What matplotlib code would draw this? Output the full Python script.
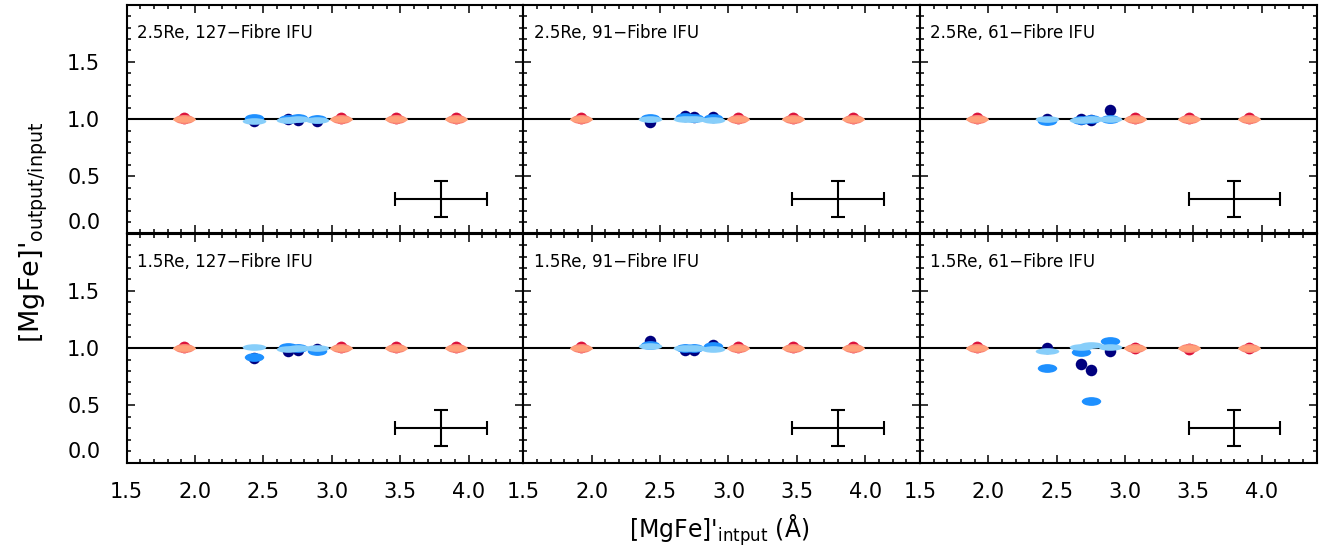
import matplotlib
matplotlib.use("Agg")
import matplotlib.pyplot as plt
from matplotlib.path import Path
from matplotlib.transforms import Affine2D
from matplotlib.ticker import MultipleLocator, FixedLocator

plt.rcParams['font.family'] = ['DejaVu Sans']
plt.rcParams['mathtext.fontset'] = 'dejavusans'

# Input index values of the two model groups
x_red = [1.92, 3.07, 3.47, 3.91]
x_blue = [2.43, 2.68, 2.75, 2.89]

panel_labels = [
    "2.5Re, 127\u2212Fibre IFU", "2.5Re, 91\u2212Fibre IFU", "2.5Re, 61\u2212Fibre IFU",
    "1.5Re, 127\u2212Fibre IFU", "1.5Re, 91\u2212Fibre IFU", "1.5Re, 61\u2212Fibre IFU",
]

# Output/input ratios: (circle, mid ellipse, flat ellipse) per panel
red_circle = [[1.006, 1.006, 1.006, 1.006]] * 5 + [[1.012, 1.003, 0.995, 1.003]]
red_mid = [[1.0, 1.0, 1.0, 1.0]] * 6
red_flat = [[0.998, 0.998, 0.998, 0.998]] * 6

blue_circle = [
    [0.985, 1.0, 0.99, 0.985],
    [0.973, 1.03, 1.015, 1.02],
    [1.0, 1.0, 0.99, 1.08],
    [0.915, 0.975, 0.98, 0.99],
    [1.065, 0.98, 0.985, 1.03],
    [1.005, 0.858, 0.81, 0.977],
]
blue_mid = [
    [1.01, 1.0, 1.01, 1.005],
    [1.01, 1.02, 1.01, 1.01],
    [0.98, 0.99, 1.0, 1.0],
    [0.925, 1.01, 1.0, 0.975],
    [1.03, 1.0, 1.0, 1.02],
    [0.83, 0.963, 0.536, 1.065],
]
blue_flat = [
    [0.98, 0.99, 1.0, 0.995],
    [1.0, 1.0, 1.0, 0.995],
    [1.0, 0.995, 1.0, 1.0],
    [1.01, 0.995, 1.0, 1.0],
    [1.015, 1.0, 1.0, 0.995],
    [0.975, 1.01, 1.025, 1.01],
]

# Typical uncertainty
err_x, err_y = 3.80, 0.30
err_dx, err_dy = 0.335, 0.16

x_ticks = [1.5, 2.0, 2.5, 3.0, 3.5, 4.0]
y_ticks = [0.0, 0.5, 1.0, 1.5]


def ellipse(ratio):
    return Path.unit_circle().transformed(Affine2D().scale(1.0, ratio))


mid_marker = ellipse(0.45)
flat_marker = ellipse(0.28)

fig = plt.figure(figsize=(13.19, 5.55), dpi=100)

left0 = 126.7 / 1319
pw = 396.6 / 1319
bottoms = [1 - 233.5 / 555, 1 - 462.5 / 555]
ph = 228.8 / 555

for i in range(6):
    row, col = divmod(i, 3)
    ax = fig.add_axes([left0 + col * pw, bottoms[row], pw, ph])
    ax.set_xlim(1.5, 4.4)
    ax.set_ylim(0.0, 2.0)

    ax.axhline(1.0, color='black', lw=1.5, zorder=1)

    ax.plot(x_red, red_circle[i], 'o', ms=8.5, color='#dc143c', mew=0, zorder=3)
    ax.plot(x_red, red_mid[i], marker=mid_marker, ls='none', ms=14.5, color='#fa8072', mew=0, zorder=4)
    ax.plot(x_red, red_flat[i], marker=flat_marker, ls='none', ms=16.5, color='#ffa07a', mew=0, zorder=5)

    ax.plot(x_blue, blue_circle[i], 'o', ms=8.3, color='#00007f', mew=0, zorder=3)
    ax.plot(x_blue, blue_mid[i], marker=mid_marker, ls='none', ms=14, color='#1e90ff', mew=0, zorder=4)
    ax.plot(x_blue, blue_flat[i], marker=flat_marker, ls='none', ms=17, color='#87cefa', mew=0, zorder=5)

    ax.errorbar(err_x, err_y, xerr=err_dx, yerr=err_dy, color='black', lw=1.5,
                capsize=5, capthick=1.5, zorder=2)

    ax.text(0.026, 0.877, panel_labels[i], transform=ax.transAxes, fontsize=12,
            ha='left', va='center')

    ax.xaxis.set_major_locator(FixedLocator(x_ticks))
    ax.xaxis.set_minor_locator(MultipleLocator(0.1))
    ax.yaxis.set_major_locator(FixedLocator(y_ticks + [2.0]))
    ax.yaxis.set_minor_locator(MultipleLocator(0.1))
    ax.tick_params(which='both', direction='in', top=True, right=True, width=1.1)
    ax.tick_params(which='major', length=6)
    ax.tick_params(which='minor', length=3)
    ax.tick_params(axis='x', labelsize=15, pad=14)
    ax.tick_params(axis='y', labelsize=15, pad=19)
    for s in ax.spines.values():
        s.set_linewidth(1.5)

    if row == 1:
        ax.set_xticklabels(["%.1f" % v for v in x_ticks])
    else:
        ax.set_xticklabels([])
    if col == 0:
        ax.set_yticklabels(["%.1f" % v for v in y_ticks] + [""])
        ax.get_yticklabels()[0].set_va('bottom')
    else:
        ax.set_yticklabels([])

fig.text(0.026, 1 - 232 / 555, r"[MgFe]$'_{\mathrm{output/input}}$", rotation=90,
         ha='center', va='center', fontsize=19.5)
fig.text(719 / 1319, 1 - 530 / 555, r"[MgFe]$'_{\mathrm{intput}}$ ($\mathrm{\AA}$)",
         ha='center', va='center', fontsize=17)

fig.savefig("out.png", dpi=100)
